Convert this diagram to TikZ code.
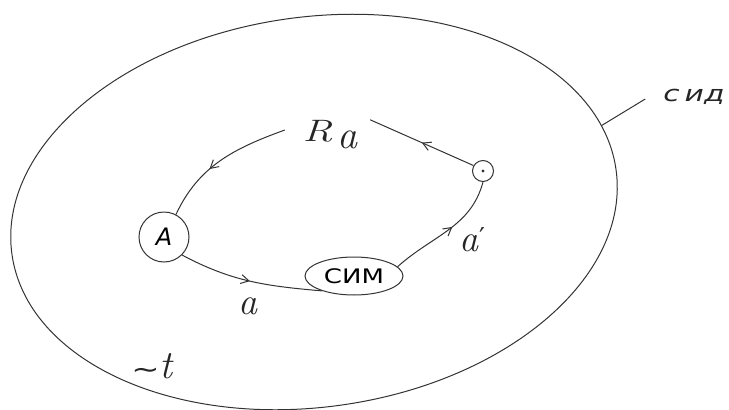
\documentclass[tikz,border=0pt]{standalone}
\usepackage{fontspec}
\setmainfont{DejaVu Sans}
\newfontfamily\lmfont{Latin Modern Roman}
\usetikzlibrary{arrows.meta,decorations.markings,shapes.geometric}
\tikzset{
  ink/.style={draw=black!80, line width=1pt},
  midarrow/.style={postaction={decorate}, decoration={markings,
     mark=at position #1 with {\arrow{Straight Barb[length=8pt,width=9pt,line width=1pt]}}}},
  midarrow/.default=0.5,
  lbl/.style={inner sep=0pt, text=black!85},
  hand/.style={lbl, font=\lmfont\itshape\fontsize{38}{40}\selectfont},
}
\begin{document}
\begin{tikzpicture}[x=1pt,y=-1pt]
\useasboundingbox (0,0) rectangle (729,410);
% outer boundary
\begin{scope}[shift={(314,212)}, rotate=8]
  \draw[ink] (0,0) ellipse [x radius=305, y radius=195];
  \coordinate (bnd) at (296.6,-45.5);
\end{scope}
\node[lbl] (sid) at (694,97) {\scalebox{1.35}[1]{\fontsize{22}{24}\selectfont\itshape с\,ид}};
\draw[ink] (bnd) -- ([xshift=-18pt,yshift=-2pt]sid.west);
% nodes
\node[ink, circle, minimum size=50pt, inner sep=0pt] (A) at (164,237) {\fontsize{24}{26}\selectfont\itshape A};
\node[ink, ellipse, minimum width=98pt, minimum height=38pt, inner sep=0pt] (sim) at (354,276)
   {\scalebox{1.3}[1]{\fontsize{20}{22}\selectfont СИМ}};
\node[ink, circle, minimum size=21pt, inner sep=0pt] (dot) at (483,171) {};
\fill[black!80] (dot.center) circle (1.6pt);
\node[lbl, minimum width=80pt, minimum height=30pt] (Ra) at (330,135)
   {\scalebox{1.35}[1]{\lmfont\itshape\fontsize{31}{33}\selectfont R}\hspace{5pt}\raisebox{-7pt}{\lmfont\itshape\fontsize{40}{42}\selectfont a}};
% connectors
\draw[ink, midarrow=0.6] ([xshift=-5pt,yshift=5pt]Ra.west) to[out=200, in=65] (A.62);
\draw[ink, midarrow=0.5] (A.-45) to[out=-28, in=175] (sim.205);
\draw[ink, midarrow=0.55] (sim.12) to[out=42, in=255] (dot.south);
\draw[ink, midarrow=0.5] (dot.150) -- (Ra.north east);
% labels
\node[hand] (la) at (248,306) {a};
\node[hand] (la2) at (472,240) {a\kern1pt\raisebox{5pt}{\normalfont\fontsize{26}{28}\selectfont\char"2032}};
\node[lbl] (lt) at (152,366) {\scalebox{1.3}[1]{\fontsize{26}{28}\selectfont ∼}{\lmfont\itshape\fontsize{40}{42}\selectfont t}};
\end{tikzpicture}
\end{document}
